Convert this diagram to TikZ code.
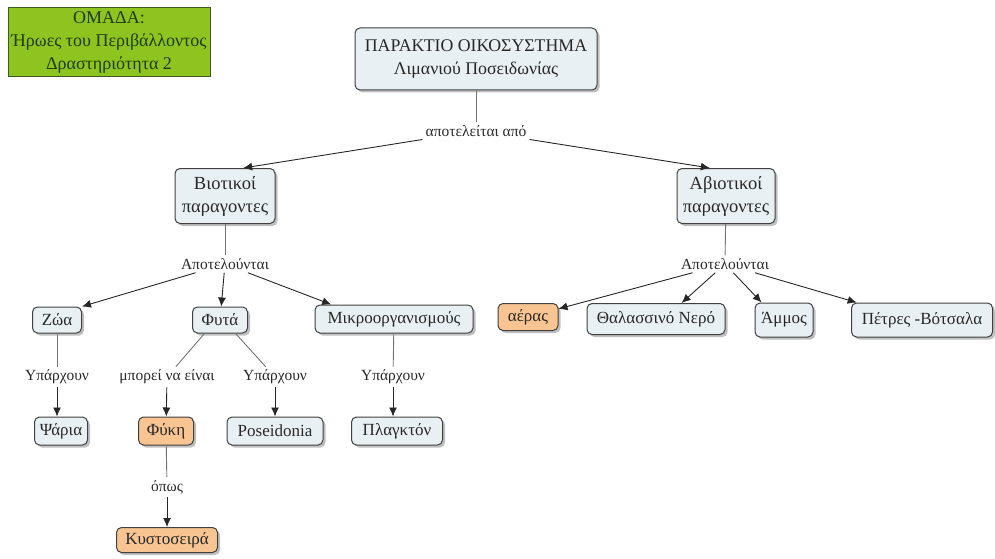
\documentclass[tikz,border=0pt]{standalone}
\usepackage{fontspec}
\setmainfont{Liberation Serif}
\usetikzlibrary{shadows,arrows.meta}
\definecolor{boxfill}{RGB}{232,240,244}
\definecolor{orangefill}{RGB}{248,196,146}
\definecolor{greenfill}{RGB}{142,196,31}
\definecolor{greendraw}{RGB}{60,90,30}
\definecolor{greentext}{RGB}{30,60,15}
\definecolor{txt}{RGB}{40,40,40}
\begin{document}
\begin{tikzpicture}[x=1pt,y=-1pt,
  cbox/.style={draw=black!75, fill=boxfill, rounded corners=5pt, line width=1pt,
    drop shadow={shadow xshift=2.5pt, shadow yshift=-2.5pt, fill=black!50},
    align=center, inner sep=2pt, text=txt, font=\fontsize{17}{21}\selectfont},
  obox/.style={cbox, fill=orangefill},
  lbl/.style={inner sep=3pt, text=txt, font=\fontsize{15.5}{18}\selectfont},
  plain/.style={draw=black!55, line width=0.9pt},
  arr/.style={draw=black!85, line width=0.9pt, -{Latex[length=9pt,width=8pt]}},
]
\useasboundingbox (0,0) rectangle (995,559);

% title
\node[draw=greendraw, fill=greenfill, line width=0.9pt, minimum width=202pt, minimum height=68pt,
  align=center, text=greentext, font=\fontsize{18}{23}\selectfont] (title) at (109,42)
  {ΟΜΑΔΑ:\\ Ήρωες του Περιβάλλοντος\\ Δραστηριότητα 2};

% top
\node[cbox, minimum width=242pt, minimum height=62pt, font=\fontsize{17.8}{23}\selectfont] (root) at (476,59)
  {ΠΑΡΑΚΤΙΟ ΟΙΚΟΣΥΣΤΗΜΑ\\ Λιμανιού Ποσειδωνίας};
\node[lbl] (l1) at (476,131) {αποτελείται από};

\node[cbox, minimum width=100pt, minimum height=55pt, font=\fontsize{18.5}{23}\selectfont] (bio) at (225,196) {Βιοτικοί\\ παραγοντες};
\node[cbox, minimum width=98pt, minimum height=55pt, font=\fontsize{18.5}{23}\selectfont] (abio) at (726,196) {Αβιοτικοί\\ παραγοντες};

\node[lbl] (l2) at (225,264) {Αποτελούνται};
\node[lbl] (l3) at (725,264) {Αποτελούνται};

% left row
\node[cbox, minimum width=49pt, minimum height=26pt] (zoa) at (57,320) {Ζώα};
\node[cbox, minimum width=55pt, minimum height=26pt] (fyta) at (220,320) {Φυτά};
\node[cbox, minimum width=158pt, minimum height=28pt] (mikro) at (394,319) {Μικροοργανισμούς};

\node[lbl] (u1) at (57,377) {Υπάρχουν};
\node[lbl] (u2) at (167,377) {μπορεί να είναι};
\node[lbl] (u3) at (275,377) {Υπάρχουν};
\node[lbl] (u4) at (393,377) {Υπάρχουν};

\node[cbox, minimum width=53pt, minimum height=28pt] (psaria) at (61,431) {Ψάρια};
\node[obox, minimum width=55pt, minimum height=28pt] (fyki) at (166,431) {Φύκη};
\node[cbox, minimum width=96pt, minimum height=28pt] (pos) at (275,431) {Poseidonia};
\node[cbox, minimum width=91pt, minimum height=28pt] (plank) at (397,431) {Πλαγκτόν};

\node[lbl] (u5) at (167,487) {όπως};
\node[obox, minimum width=101pt, minimum height=25pt] (kyst) at (167,540) {Κυστοσειρά};

% right row
\node[obox, minimum width=60pt, minimum height=27pt] (aeras) at (528,317) {αέρας};
\node[cbox, minimum width=138pt, minimum height=31pt] (thal) at (656,319) {Θαλασσινό Νερό};
\node[cbox, minimum width=58pt, minimum height=34pt] (ammos) at (784,320) {Άμμος};
\node[cbox, minimum width=141pt, minimum height=34pt] (petres) at (922,320) {Πέτρες -Βότσαλα};

% connectors
\draw[plain] (root) -- (l1);
\draw[arr] (l1) -- (bio.57);
\draw[arr] (l1) -- (abio.120);

\draw[plain] (bio) -- (l2);
\draw[arr] (l2) -- (zoa.north east);
\draw[arr] (l2) -- (fyta);
\draw[arr] (l2) -- (mikro.167);

\draw[plain] (abio) -- (l3);
\draw[arr] (l3) -- (aeras.15);
\draw[arr] (l3) -- (thal.32);
\draw[arr] (l3) -- (ammos.142);
\draw[arr] (l3) -- (petres.165);

\draw[plain] (zoa) -- (u1);
\draw[arr] (u1) -- (u1 |- psaria.north);
\draw[plain] (fyta.-139) -- (u2);
\draw[arr] (u2) -- (fyki);
\draw[plain] (fyta.-41) -- (u3);
\draw[arr] (u3) -- (pos);
\draw[plain] (mikro) -- (u4);
\draw[arr] (u4) -- (u4 |- plank.north);

\draw[plain] (fyki) -- (u5);
\draw[arr] (u5) -- (kyst);
\end{tikzpicture}
\end{document}
